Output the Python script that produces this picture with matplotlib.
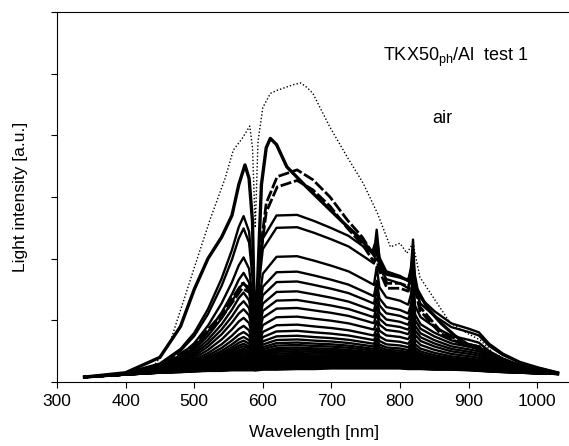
import matplotlib

matplotlib.use("Agg")
import matplotlib.pyplot as plt
import numpy as np

plt.rcParams["font.family"] = ["Liberation Sans", "DejaVu Sans"]

# outer (first) spectrum, dotted
env_wl = [340, 400, 440, 450, 465, 484, 500, 523, 545, 557, 570, 581, 585, 589, 593,
          600, 611, 621, 644, 655, 664, 673, 683, 698, 723, 746, 767, 786, 800, 810,
          819, 829, 854, 873, 898, 917, 936, 965, 1000, 1029]
env_int = [0.08, 0.15, 0.25, 0.39, 0.65, 1.3, 1.85, 2.63, 3.3, 3.76, 3.95, 4.15, 3.8, 2.5, 3.9,
           4.45, 4.68, 4.73, 4.82, 4.85, 4.78, 4.68, 4.46, 4.13, 3.65, 3.23, 2.74, 2.19, 2.25, 2.09,
           2.25, 1.7, 1.28, 0.96, 0.79, 0.68, 0.47, 0.31, 0.16, 0.15]

# bold spectrum with Na D self-reversal
na_wl = [340, 400, 450, 480, 500, 520, 540, 555, 565, 574, 580, 585, 589, 592, 598,
         605, 611, 620, 635, 664, 688, 713, 740, 760, 766, 770, 780, 800, 812, 819,
         825, 840, 860, 880, 900, 925, 950, 975, 1000, 1030]
na_int = [0.08, 0.15, 0.4, 0.9, 1.5, 2.0, 2.35, 2.7, 3.2, 3.52, 3.3, 2.6, 0.3, 1.5, 3.2,
          3.8, 3.95, 3.85, 3.49, 3.16, 2.9, 2.63, 2.35, 2.1, 2.3, 1.95, 1.75, 1.7, 1.65, 1.85,
          1.5, 1.2, 0.95, 0.75, 0.6, 0.48, 0.36, 0.25, 0.17, 0.14]

# broad bold spectrum (dashed look)
bb_wl = [340, 400, 450, 500, 540, 570, 585, 589, 595, 605, 621, 650, 673, 698, 723,
         745, 762, 766, 770, 781, 800, 812, 819, 829, 858, 892, 917, 950, 985, 1030]
bb_int = [0.08, 0.13, 0.25, 0.6, 1.1, 1.6, 1.5, 0.3, 2.0, 2.9, 3.33, 3.44, 3.28, 3.0, 2.63,
          2.35, 2.05, 2.1, 1.9, 1.6, 1.6, 1.55, 1.75, 1.22, 0.84, 0.63, 0.57, 0.36, 0.19, 0.14]
bb_levels = [1.0, 0.95]

# later spectra: baseline + level * shape
fam_wl = [340, 400, 450, 480, 500, 520, 540, 555, 565, 572, 580, 586, 589, 592, 600,
          620, 650, 675, 700, 725, 750, 762, 766, 770, 780, 800, 812, 816, 819, 822,
          830, 850, 875, 900, 915, 930, 950, 975, 1000, 1030]
fam_base = [0.08, 0.12, 0.15, 0.16, 0.17, 0.18, 0.18, 0.19, 0.19, 0.19, 0.19, 0.19, 0.19, 0.19, 0.2,
            0.2, 0.21, 0.21, 0.22, 0.22, 0.22, 0.22, 0.22, 0.22, 0.22, 0.22, 0.21, 0.21, 0.21, 0.21,
            0.21, 0.2, 0.2, 0.19, 0.18, 0.17, 0.16, 0.15, 0.14, 0.13]
fam_shape = [0.0, 0.01, 0.06, 0.15, 0.25, 0.4, 0.6, 0.78, 0.93, 1.0, 0.9, 0.6, 0.12, 0.5, 0.85,
             1.0, 1.0, 0.96, 0.91, 0.86, 0.78, 0.74, 0.9, 0.72, 0.63, 0.6, 0.57, 0.66, 0.84, 0.56,
             0.46, 0.38, 0.3, 0.27, 0.25, 0.18, 0.12, 0.07, 0.04, 0.01]
fam_levels = [2.5, 2.3, 1.83, 1.58, 1.42, 1.26, 1.12, 0.99, 0.85, 0.72, 0.62, 0.54, 0.48,
              0.43, 0.39, 0.35, 0.32, 0.29, 0.26, 0.23, 0.21, 0.19, 0.17, 0.15, 0.13,
              0.11, 0.09, 0.075, 0.06, 0.045, 0.03, 0.015, 0.0]

fig = plt.figure(figsize=(5.69, 4.46), dpi=100)
ax = fig.add_axes([57 / 569, 64 / 446, 514.5 / 569, 370 / 446])

base = np.array(fam_base)
shape = np.array(fam_shape)
for lev in fam_levels:
    ax.plot(fam_wl, base + lev * shape, color="black", lw=1.7, solid_joinstyle="round")

bb = np.array(bb_int)
for k in bb_levels:
    ax.plot(bb_wl, bb * k, color="black", lw=2.0, linestyle=(0, (4, 1)))

ax.plot(na_wl, na_int, color="black", lw=2.4)
ax.plot(env_wl, env_int, color="black", lw=1.0, linestyle=(0, (1, 1.5)))

ax.set_xlim(300, 1050)
ax.set_ylim(0, 6)
ax.set_xticks([300, 400, 500, 600, 700, 800, 900, 1000])
ax.set_yticks([0, 1, 2, 3, 4, 5, 6])
ax.tick_params(axis="x", direction="out", length=4, labelsize=12.5, pad=5)
ax.tick_params(axis="y", direction="out", length=4, labelleft=False)
ax.spines["right"].set_visible(False)

ax.set_xlabel("Wavelength [nm]", fontsize=12.5, labelpad=11)
ax.set_ylabel("Light intensity [a.u.]", fontsize=12.5, labelpad=17)

ax.text(775, 5.27, r"TKX50$_{\mathregular{ph}}$/Al  test 1", fontsize=13, va="center", ha="left")
ax.text(861, 4.28, "air", fontsize=13, va="center", ha="center")

fig.savefig("out.png", dpi=100)
